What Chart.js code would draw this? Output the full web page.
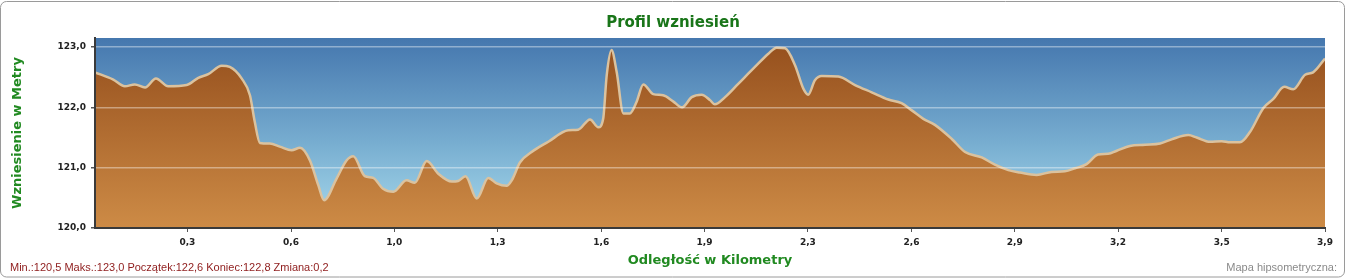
<!DOCTYPE html>
<html><head><meta charset="utf-8">
<script src="https://cdn.jsdelivr.net/npm/chart.js@4.4.1/dist/chart.umd.min.js"></script>
<style>html,body{margin:0;padding:0;background:#fff;overflow:hidden}canvas{display:block}</style>
</head><body>
<canvas id="c" width="1346" height="278"></canvas>
<script>
const distanceKm = [0.034,0.091,0.127,0.158,0.190,0.224,0.262,0.320,0.356,0.387,0.429,0.454,0.491,0.517,0.532,0.548,0.579,0.610,0.647,0.673,0.704,0.730,0.748,0.787,0.818,0.839,0.875,0.901,0.932,0.964,1.005,1.031,1.068,1.104,1.146,1.166,1.189,1.224,1.260,1.286,1.317,1.333,1.359,1.395,1.447,1.509,1.540,1.577,1.603,1.618,1.629,1.644,1.660,1.681,1.701,1.722,1.743,1.774,1.805,1.836,1.864,1.894,1.925,1.951,1.966,1.998,2.039,2.091,2.133,2.159,2.185,2.216,2.242,2.257,2.278,2.299,2.351,2.403,2.455,2.507,2.548,2.580,2.616,2.652,2.704,2.746,2.798,2.839,2.881,2.917,2.969,3.016,3.057,3.089,3.125,3.161,3.192,3.219,3.260,3.307,3.354,3.390,3.442,3.468,3.509,3.546,3.572,3.603,3.634,3.676,3.707,3.741,3.769,3.806,3.831,3.868];
const elevationM = [122.58,122.46,122.35,122.38,122.33,122.48,122.35,122.37,122.49,122.55,122.69,122.67,122.48,122.20,121.76,121.41,121.40,121.35,121.29,121.33,121.12,120.71,120.46,120.82,121.12,121.19,120.86,120.83,120.65,120.60,120.79,120.75,121.11,120.90,120.77,120.78,120.86,120.49,120.83,120.74,120.70,120.79,121.09,121.26,121.43,121.62,121.63,121.80,121.67,121.81,122.53,122.95,122.59,121.90,121.90,122.09,122.38,122.22,122.20,122.10,122.00,122.17,122.21,122.12,122.05,122.17,122.39,122.67,122.89,122.99,122.98,122.70,122.31,122.21,122.45,122.52,122.51,122.37,122.25,122.13,122.07,121.95,121.81,121.71,121.48,121.26,121.17,121.05,120.96,120.92,120.88,120.93,120.94,120.99,121.06,121.22,121.23,121.28,121.36,121.38,121.40,121.47,121.54,121.50,121.43,121.44,121.42,121.42,121.59,121.99,122.14,122.34,122.30,122.54,122.58,122.81];
const xTickValues = [0.322,0.645,0.967,1.289,1.612,1.934,2.256,2.579,2.901,3.223,3.546,3.868];
const xTickLabels = ['0,3','0,6','1,0','1,3','1,6','1,9','2,3','2,6','2,9','3,2','3,5','3,9'];
const yTickValues = [120,121,122,123];
const yTickLabels = ['120,0','121,0','122,0','123,0'];
const titleText = 'Profil wzniesień';
const xTitleText = 'Odległość w Kilometry';
const yTitleText = 'Wzniesienie w Metry';
const statsText = 'Min.:120,5 Maks.:123,0 Początek:122,6 Koniec:122,8 Zmiana:0,2';
const mapText = 'Mapa hipsometryczna:';

const points = distanceKm.map((d, i) => ({x: d, y: elevationM[i]}));

const decor = {
  id: 'decor',
  beforeDraw(chart) {
    const {ctx, chartArea: a} = chart;
    ctx.save();
    ctx.fillStyle = '#ffffff';
    ctx.fillRect(0, 0, chart.width, chart.height);
    const g = ctx.createLinearGradient(0, a.top, 0, a.bottom);
    g.addColorStop(0, '#4577ae');
    g.addColorStop(0.55, '#77add0');
    g.addColorStop(1, '#a9dbed');
    ctx.fillStyle = g;
    ctx.fillRect(a.left, a.top, a.right - a.left, a.bottom - a.top);
    ctx.restore();
  },
  afterDraw(chart) {
    const {ctx} = chart;
    ctx.save();
    ctx.strokeStyle = '#9a9a9a';
    ctx.lineWidth = 1;
    ctx.beginPath();
    ctx.roundRect(0.5, 1.5, 1344, 275.5, 6);
    ctx.stroke();
    ctx.textBaseline = 'middle';
    ctx.textAlign = 'center';
    ctx.fillStyle = '#197519';
    ctx.font = 'bold 15px "DejaVu Sans"';
    ctx.fillText(titleText, 673, 23);
    ctx.font = '11px "Liberation Sans"';
    ctx.textAlign = 'left';
    ctx.fillStyle = '#8e1b1b';
    ctx.fillText(statsText, 10, 268);
    ctx.textAlign = 'right';
    ctx.fillStyle = '#8a8a8a';
    ctx.fillText(mapText, 1337, 268);
    ctx.restore();
  }
};

new Chart(document.getElementById('c'), {
  type: 'line',
  data: {
    datasets: [{
      data: points,
      fill: 'start',
      borderColor: '#dbc29e',
      borderWidth: 2.5,
      pointRadius: 0,
      cubicInterpolationMode: 'monotone',
      backgroundColor: (context) => {
        const a = context.chart.chartArea;
        if (!a) return '#b06a30';
        const g = context.chart.ctx.createLinearGradient(0, a.top, 0, a.bottom);
        g.addColorStop(0, '#944e1c');
        g.addColorStop(1, '#cd8b46');
        return g;
      }
    }]
  },
  options: {
    responsive: false,
    animation: false,
    devicePixelRatio: 1,
    layout: {padding: {top: 38, right: 21, bottom: 5, left: 0}},
    plugins: {legend: {display: false}, title: {display: false}, tooltip: {enabled: false}},
    scales: {
      x: {
        type: 'linear',
        min: distanceKm[0],
        max: xTickValues[xTickValues.length - 1],
        afterBuildTicks: (s) => { s.ticks = xTickValues.map(v => ({value: v})); },
        afterFit: (s) => { s.height = 45; },
        ticks: {
          autoSkip: false, maxRotation: 0, padding: 5, color: '#222', z: 2,
          font: {family: 'DejaVu Sans', size: 9, weight: 'bold'},
          callback: (v, i) => xTickLabels[i]
        },
        grid: {drawOnChartArea: false, drawTicks: true, tickLength: 4, tickColor: '#555', z: 1},
        border: {display: true, color: '#3a3a3a', width: 2, z: 2},
        title: {display: true, text: xTitleText, color: '#218a21',
          font: {family: 'DejaVu Sans', size: 13, weight: 'bold'}, padding: {top: 0, bottom: 5}}
      },
      y: {
        min: 120, max: 123.15,
        afterBuildTicks: (s) => { s.ticks = yTickValues.map(v => ({value: v})); },
        afterFit: (s) => { s.width = 95; },
        ticks: {
          padding: 5, color: '#222', z: 2,
          font: {family: 'DejaVu Sans', size: 9, weight: 'bold'},
          callback: (v, i) => yTickLabels[i]
        },
        grid: {color: 'rgba(255,255,255,0.4)', lineWidth: 1.5, drawTicks: true, tickLength: 4, tickColor: '#555', z: 1},
        border: {display: true, color: '#3a3a3a', width: 2, z: 2},
        title: {display: true, text: yTitleText, color: '#218a21',
          font: {family: 'DejaVu Sans', size: 13, weight: 'bold'}, padding: {top: 10, bottom: 0}}
      }
    }
  },
  plugins: [decor]
});
</script>
</body></html>
